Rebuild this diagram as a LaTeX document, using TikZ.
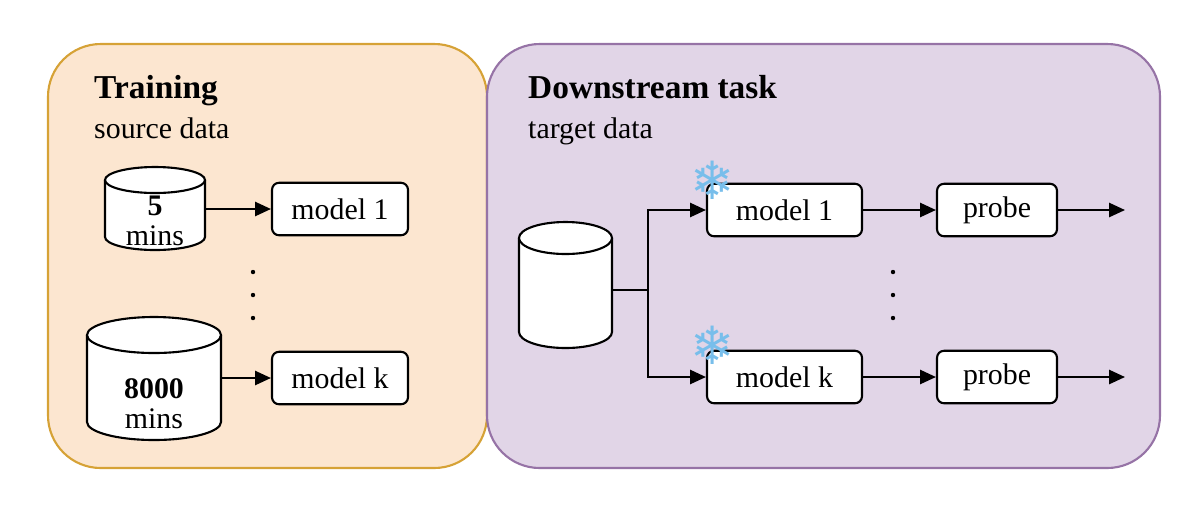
\documentclass[tikz,border=0pt]{standalone}
\usepackage{fontspec}
\setmainfont{Liberation Serif}
\newfontfamily\snowfont{DejaVu Sans}
\usetikzlibrary{arrows.meta}
\begin{document}
\begin{tikzpicture}[x=0.02cm,y=-0.02cm,
  panel/.style={rounded corners=30pt,line width=1.2pt},
  model/.style={draw,rounded corners=4pt,fill=white,line width=1.2pt,minimum width=2.72cm,minimum height=1.05cm,font=\fontsize{17}{19}\selectfont},
  arr/.style={-{Triangle[length=9pt,width=8pt]},line width=1.2pt},
  cyl/.style={draw,fill=white,line width=1.2pt},
  ttl/.style={anchor=base west,font=\bfseries\fontsize{19}{21}\selectfont},
  sub/.style={anchor=base west,font=\fontsize{17}{19}\selectfont},
  snow/.style={font=\snowfont\fontsize{30}{30}\selectfont,text={rgb,255:red,120;green,190;blue,235}}]
\useasboundingbox (0,0) rectangle (1200,512);
\draw[panel,fill={rgb,255:red,252;green,230;blue,208},draw={rgb,255:red,214;green,162;blue,54}] (48,44) rectangle (487,468);
\draw[panel,fill={rgb,255:red,225;green,213;blue,231},draw={rgb,255:red,150;green,115;blue,166}] (487,44) rectangle (1160,468);
\node[ttl] (t1) at (88,98) {Training};
\node[sub] (s1) at (88,138) {source data};
\node[ttl] (t2) at (522,98) {Downstream task};
\node[sub] (s2) at (522,138) {target data};
\newcommand{\mycyl}[5]{% x1 x2 ytop ybot ry
  \draw[cyl] (#1,#3) -- (#1,#4) arc[start angle=180,end angle=0,x radius={(#2-#1)/2},y radius=#5] -- (#2,#3);
  \draw[cyl] ({(#1+#2)/2},#3) ellipse[x radius={(#2-#1)/2},y radius=#5];}
\mycyl{105}{205}{180}{237}{13}
\mycyl{87}{221}{335}{422}{18}
\mycyl{519}{612}{238}{332}{16}
\node[inner sep=0,minimum width=2cm,minimum height=1.4cm] (c1) at (155,212) {};
\node[inner sep=0,minimum width=2.68cm,minimum height=2cm] (c2) at (154,390) {};
\node[inner sep=0,minimum width=1.86cm,minimum height=2.2cm] (c3) at (565,290) {};
\node[font=\bfseries\fontsize{17}{19}\selectfont] at (155,206) {5};
\node[font=\fontsize{17}{19}\selectfont] at (155,236) {mins};
\node[font=\bfseries\fontsize{17}{19}\selectfont] at (154,389) {8000};
\node[font=\fontsize{17}{19}\selectfont] at (154,419) {mins};
\node[model] (m1) at (340,209) {model 1};
\node[model] (mk) at (340,378) {model k};
\draw[arr] (c1.east|-m1) -- (m1);
\draw[arr] (c2.east|-mk) -- (mk);
\foreach \y in {272,295,318} \fill (253,\y) circle (2.2);
\foreach \y in {272,295,318} \fill (893,\y) circle (2.2);
\node[model,minimum width=3.1cm] (n1) at (784.5,210) {model 1};
\node[model,minimum width=3.1cm] (nk) at (784.5,377) {model k};
\node[model,minimum width=2.4cm] (p1) at (997,210) {probe};
\node[model,minimum width=2.4cm] (pk) at (997,377) {probe};
\coordinate (sp) at (648,290);
\coordinate (o1) at (1125,210);
\coordinate (ok) at (1125,377);
\draw[line width=1.2pt] (c3.east|-sp) -- (sp);
\draw[arr] (sp) |- (n1);
\draw[arr] (sp) |- (nk);
\draw[arr] (n1) -- (p1);
\draw[arr] (nk) -- (pk);
\draw[arr] (p1) -- (o1);
\draw[arr] (pk) -- (ok);
\node[snow] (f1) at (713,180) {❄};
\node[snow] (f2) at (713,345) {❄};
\end{tikzpicture}
\end{document}
